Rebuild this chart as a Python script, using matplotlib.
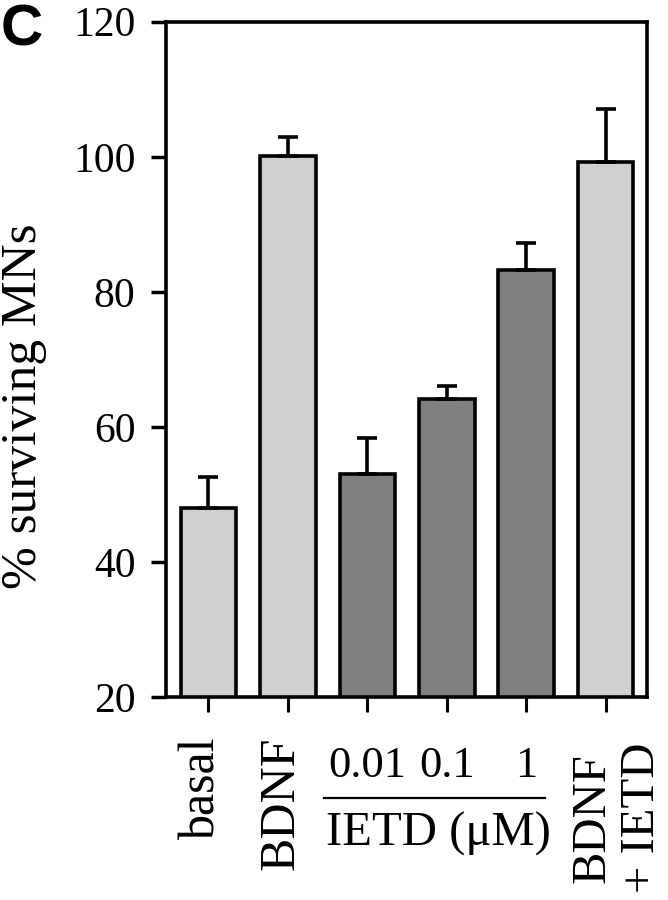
import numpy as np
import matplotlib
matplotlib.use("Agg")
import matplotlib.pyplot as plt

plt.rcParams['font.family'] = ['Liberation Serif', 'DejaVu Serif']

# data
groups = ['basal', 'BDNF', '0.01', '0.1', '1', 'BDNF\n+ IETD']
survival = [48.0, 100.1, 53.0, 64.1, 83.3, 99.2]
sem = [4.6, 2.9, 5.3, 1.9, 4.0, 7.8]
bar_colors = ['#d0d0d0', '#d0d0d0', '#7f7f7f', '#7f7f7f', '#7f7f7f', '#d0d0d0']
y_ticks = [20, 40, 60, 80, 100, 120]

W, H = 668, 900
fig = plt.figure(figsize=(W / 100, H / 100), dpi=100)
ax = fig.add_axes([166 / W, 1 - 697 / H, (647 - 166) / W, (697 - 21.7) / H])

x = np.arange(len(groups))
ax.bar(x, survival, width=0.70, color=bar_colors, edgecolor='black', linewidth=2.6, zorder=2)
ax.errorbar(x, survival, yerr=[np.zeros(len(sem)), sem], fmt='none', ecolor='black',
            elinewidth=2.6, capsize=7, capthick=2.6, zorder=3)

ax.set_xlim(-0.535, 5.52)
ax.set_ylim(20, 120)
ax.set_yticks(y_ticks)
ax.set_yticklabels([str(t) for t in y_ticks], fontsize=30)
ax.set_xticks(x)
ax.set_xticklabels([''] * len(groups))

for s in ax.spines.values():
    s.set_linewidth(2.6)
ax.tick_params(axis='y', direction='out', length=11, width=2.5, pad=11)
ax.tick_params(axis='x', direction='out', length=11, width=2.2)

# category labels under the axis
tr = ax.get_xaxis_transform()
ax.text(x[0] - 0.08, -0.058, groups[0], transform=tr, rotation=90,
        ha='center', va='top', fontsize=36)
ax.text(x[1] - 0.08, -0.059, groups[1], transform=tr, rotation=90,
        ha='center', va='top', fontsize=36)
for i in (2, 3, 4):
    ax.text(x[i], -0.1185, groups[i], transform=tr, ha='center', va='baseline', fontsize=32)
ax.plot([1.46, 4.23], [-0.1496, -0.1496], transform=tr, color='black', lw=1.6, clip_on=False)
ax.text(2.9, -0.170, 'IETD (μM)', transform=tr, ha='center', va='top', fontsize=35)
ax.text(x[5] + 0.15, -0.068, groups[5], transform=tr, rotation=90, ha='center', va='top',
        fontsize=35, multialignment='center', linespacing=1.15)

fig.text(24 / W, 1 - 406 / H, '% surviving MNs', rotation=90, ha='center', va='center',
         fontsize=37)
fig.text(1 / W, 1 - 4 / H, 'C', ha='left', va='top', fontsize=42, fontweight='bold',
         family='Liberation Sans')

fig.savefig('out.png', dpi=100)
